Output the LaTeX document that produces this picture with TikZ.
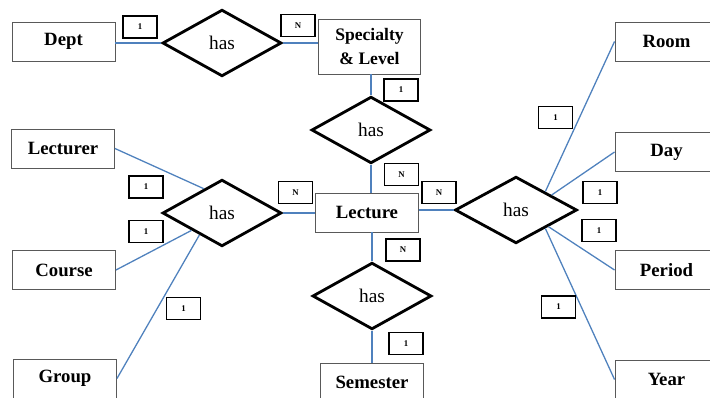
\documentclass[tikz,border=0pt]{standalone}
\usepackage{fontspec}
\setmainfont{Liberation Serif}
\usetikzlibrary{shapes.geometric, calc}

\definecolor{linkblue}{RGB}{79,129,189}

\begin{document}
\begin{tikzpicture}[
    x=0.03cm, y=-0.03cm,
    % --- styles ---
    % entity boxes
    entity/.style={draw=black!65, line width=0.8pt, fill=white, minimum width=3.09cm, minimum height=1.17cm, inner sep=0pt, align=center, font=\fontsize{16}{20}\selectfont\bfseries},
    % relationship diamonds
    relation/.style={draw, diamond, line width=2.4pt, minimum width=3.57cm, minimum height=2cm, inner sep=0pt, font=\fontsize{16.5}{18}\selectfont},
    % cardinality tags
    card/.style={draw, line width=1.3pt, minimum width=1.02cm, minimum height=0.66cm, inner sep=0pt, font=\fontsize{7.5}{8}\selectfont\bfseries},
    % connectors
    link/.style={draw=linkblue, line width=1.1pt}
]

\useasboundingbox (0,0) rectangle (710,397);

% --- 1. Entities ---
\node[entity] (Dept) at (63.5,41.5) {Dept};
\node[entity, minimum width=3.06cm, minimum height=1.65cm, font=\fontsize{15}{20}\selectfont\bfseries] (Spec) at (369.5,46.5) {Specialty\\ \& Level};
\node[entity] (Lecturer) at (63,148.5) {Lecturer};
\node[entity] (Course) at (64,270) {Course};
\node[entity] (Group) at (65,378.5) {Group};
\node[entity] (Lecture) at (367,212.5) {Lecture};
\node[entity] (Semester) at (372,382.5) {Semester};
\node[entity] (Room) at (666.5,41.5) {Room};
\node[entity] (Day) at (666.5,152) {Day};
\node[entity] (Period) at (666.5,270) {Period};
\node[entity] (Year) at (666.5,379.5) {Year};

% --- 2. Relationships ---
\node[relation] (HasTop) at (222,43) {has};
\node[relation] (HasMid) at (371,130) {has};
\node[relation] (HasLeft) at (222,213) {has};
\node[relation] (HasBot) at (372,296) {has};
\node[relation, minimum width=3.66cm] (HasRight) at (516,210) {has};

% --- 3. Connectors ---
\draw[link] (HasTop.west -| Dept.east) -- (HasTop.west);
\draw[link] (HasTop.east) -- (HasTop.east -| Spec.west);
\draw[link] (HasMid.north) -- (HasMid.north |- Spec.south);
\draw[link] (HasMid.south) -- (HasMid.south |- Lecture.north);
\draw[link] (HasLeft.east) -- (HasLeft.east -| Lecture.west);
\draw[link] (HasBot.north) -- (HasBot.north |- Lecture.south);
\draw[link] (HasBot.south) -- (HasBot.south |- Semester.north);
\draw[link] (HasRight.west -| Lecture.east) -- (HasRight.west);

% left fan
\draw[link] (Lecturer.east) -- ($(HasLeft.west)!0.7!(HasLeft.north)$);
\draw[link] (Course.east) -- ($(HasLeft.west)!0.5!(HasLeft.south)$);
\draw[link] (Group.east) -- ($(HasLeft.west)!0.63!(HasLeft.south)$);

% right fan
\draw[link] (Room.west) -- ($(HasRight.north)!0.47!(HasRight.east)$);
\draw[link] (Day.west) -- ($(HasRight.north)!0.57!(HasRight.east)$);
\draw[link] (Period.west) -- ($(HasRight.east)!0.48!(HasRight.south)$);
\draw[link] (Year.west) -- ($(HasRight.east)!0.53!(HasRight.south)$);

% --- 4. Cardinalities ---
\node[card] (cDept) at (140,27) {1};
\node[card] (cSpecTop) at (298,25.5) {N};
\node[card] (cSpecMid) at (401,90) {1};
\node[card] (cLectMid) at (401.5,174.5) {N};
\node[card] (cLectLeft) at (295.5,192.5) {N};
\node[card] (cLecturer) at (146,187) {1};
\node[card] (cCourse) at (146,231.5) {1};
\node[card] (cGroup) at (183.5,308.5) {1};
\node[card] (cLectBot) at (403,250) {N};
\node[card] (cSemester) at (406,343.5) {1};
\node[card] (cLectRight) at (439,192.5) {N};
\node[card] (cRoom) at (555.5,117.5) {1};
\node[card] (cDay) at (600,192.5) {1};
\node[card] (cPeriod) at (599,230.5) {1};
\node[card] (cYear) at (558.5,307) {1};

\end{tikzpicture}
\end{document}
